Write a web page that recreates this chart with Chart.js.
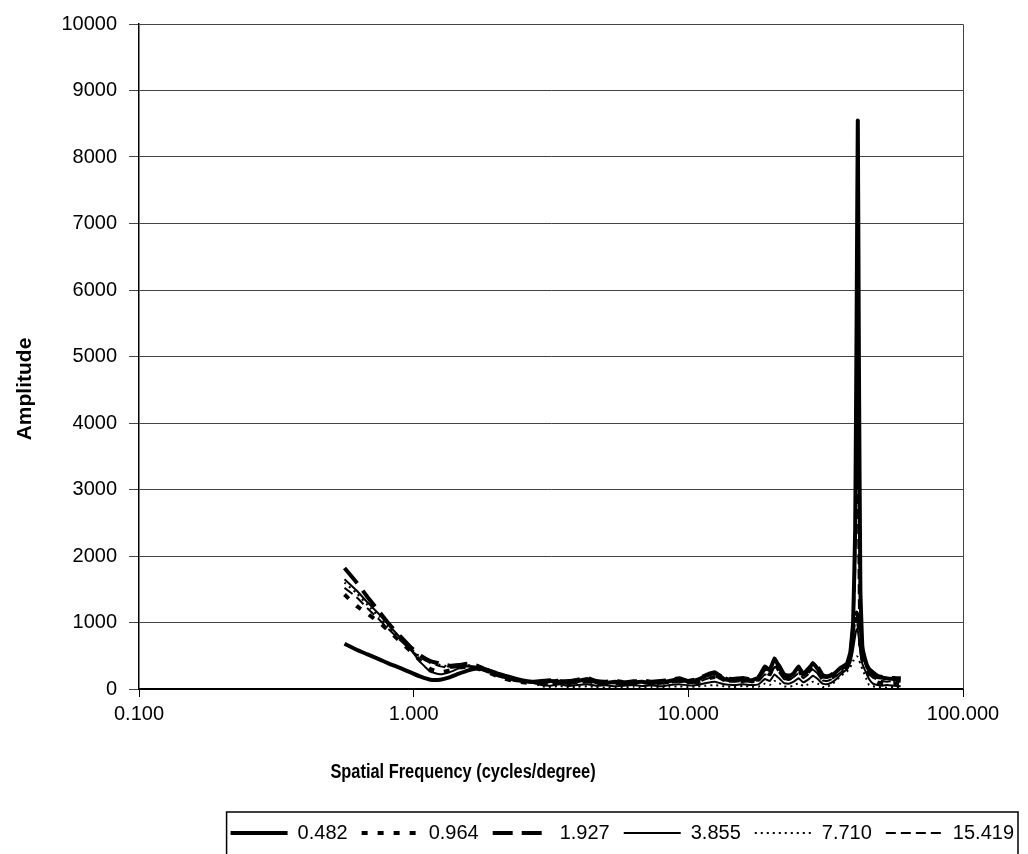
<!DOCTYPE html>
<html>
<head>
<meta charset="utf-8">
<script src="https://cdn.jsdelivr.net/npm/chart.js"></script>
<style>
  body { margin: 0; background: #fff; }
  #wrap { width: 1028px; height: 854px; }
</style>
</head>
<body>
<div id="wrap"><canvas id="spectrumChart" width="1028" height="854"></canvas></div>
<script>
// spatial frequency (cycles/degree) shared by every curve
const freq = [
  0.56, 0.62, 0.68, 0.75, 0.82, 0.90, 0.98, 1.06, 1.15, 1.25,
  1.35, 1.46, 1.58, 1.70, 1.84, 2.00, 2.15, 2.33, 2.50, 2.70,
  2.92, 3.15, 3.40, 3.67, 3.96, 4.28, 4.62, 5.00, 5.40, 5.83,
  6.30, 6.80, 7.34, 7.93, 8.56, 9.25, 10.0, 10.8, 11.6, 12.5,
  13.5, 14.6, 15.8, 17.0, 18.0, 19.0, 19.8, 20.6, 21.4, 22.3,
  23.2, 24.2, 25.2, 26.2, 27.3, 28.4, 29.6, 30.8, 32.0, 33.3,
  34.6, 35.9, 37.8, 38.9, 39.8, 40.5, 41.0, 41.4, 41.8, 42.3,
  43.0, 44.0, 45.5, 47.0, 48.8, 50.8, 53.0, 56.0, 59.3
];

const amp0482 = [
  680, 590, 520, 445, 375, 310, 245, 185, 140, 140,
  175, 230, 280, 310, 290, 240, 200, 160, 130, 110,
  100, 120, 110, 90, 120, 150, 100, 90, 110, 80,
  100, 110, 90, 100, 120, 150, 110, 140, 200, 240,
  150, 130, 150, 130, 170, 340, 280, 460, 330, 200,
  180, 240, 340, 210, 280, 390, 300, 190, 180, 210,
  260, 320, 380, 560, 1000, 2400, 5600, 8550, 4800, 1500,
  650, 450, 280, 220, 180, 170, 160, 150, 150
];
const amp0964 = [
  1420, 1250, 1130, 1000, 860, 700, 560, 420, 300, 250,
  280, 320, 340, 310, 260, 200, 155, 120, 100, 85,
  110, 95, 135, 110, 100, 120, 110, 100, 80, 95,
  80, 130, 100, 90, 110, 120, 130, 100, 150, 180,
  170, 100, 120, 150, 140, 260, 220, 380, 280, 170,
  150, 200, 280, 180, 250, 330, 260, 150, 140, 170,
  220, 280, 320, 450, 800, 1000, 1100, 1050, 900, 650,
  450, 350, 200, 130, 100, 90, 80, 90, 80
];
const amp1927 = [
  1820, 1600, 1380, 1160, 960, 780, 620, 500, 420, 380,
  350, 360, 380, 350, 290, 230, 180, 140, 120, 105,
  120, 130, 115, 120, 140, 165, 120, 110, 125, 100,
  115, 120, 110, 120, 135, 160, 120, 150, 210, 250,
  160, 150, 165, 140, 180, 300, 300, 420, 350, 220,
  200, 260, 320, 230, 300, 370, 330, 210, 190, 220,
  270, 300, 360, 500, 900, 1100, 1150, 1100, 950, 700,
  480, 400, 300, 250, 200, 180, 170, 165, 160
];
const amp3855 = [
  1650, 1480, 1300, 1120, 940, 760, 580, 400, 260, 220,
  250, 310, 350, 330, 270, 210, 170, 130, 110, 95,
  60, 50, 70, 45, 60, 70, 50, 55, 40, 50,
  60, 45, 55, 40, 60, 70, 55, 60, 90, 110,
  70, 60, 70, 60, 70, 150, 120, 220, 160, 90,
  80, 110, 160, 100, 140, 200, 150, 80, 70, 100,
  150, 220, 300, 400, 600, 800, 900, 880, 750, 550,
  380, 280, 150, 80, 60, 50, 60, 50, 40
];
const amp7710 = [
  1600, 1440, 1260, 1080, 910, 740, 600, 480, 410, 360,
  340, 350, 360, 330, 280, 220, 175, 140, 115, 100,
  40, 30, 45, 25, 35, 40, 30, 20, 30, 25,
  35, 20, 30, 25, 35, 40, 30, 35, 50, 60,
  40, 30, 45, 35, 35, 80, 60, 120, 90, 40,
  35, 50, 90, 45, 70, 110, 80, 30, 30, 70,
  130, 200, 260, 330, 420, 470, 490, 480, 440, 380,
  300, 200, 60, 40, 30, 25, 20, 30, 20
];
const amp15419 = [
  1520, 1380, 1210, 1040, 880, 720, 580, 470, 390, 340,
  320, 330, 340, 310, 260, 200, 160, 125, 105, 90,
  80, 70, 90, 75, 85, 100, 80, 70, 85, 65,
  75, 90, 70, 80, 95, 110, 90, 100, 150, 190,
  120, 110, 120, 100, 120, 220, 200, 330, 250, 150,
  130, 180, 240, 160, 220, 290, 230, 130, 120, 150,
  200, 250, 340, 480, 850, 1800, 4900, 3000, 1200, 800,
  520, 380, 230, 170, 140, 120, 110, 120, 110
];

const seriesLabels = ['0.482', '0.964', '1.927', '3.855', '7.710', '15.419'];
const seriesValues = [amp0482, amp0964, amp1927, amp3855, amp7710, amp15419];
const xTickValues = [0.1, 1, 10, 100];
const xTitle = 'Spatial Frequency (cycles/degree)';
const yTitle = 'Amplitude';

// line styles to match the legend
const lineStyles = [
  { width: 4, dash: [] },
  { width: 4, dash: [6, 10] },
  { width: 4, dash: [20, 9] },
  { width: 2, dash: [] },
  { width: 2, dash: [2, 4] },
  { width: 2, dash: [10, 5] }
];
const legendLineWidth = 57;

const datasets = seriesLabels.map((label, i) => ({
  label: label,
  data: freq.map((f, j) => ({ x: f, y: seriesValues[i][j] })),
  borderColor: '#000',
  backgroundColor: '#000',
  borderWidth: lineStyles[i].width,
  borderDash: lineStyles[i].dash,
  pointRadius: 0,
  tension: 0.1,
  fill: false
}));

// plot border, axis titles, dashed legend samples and the legend box
const framePlugin = {
  id: 'frame',
  afterDraw(chart) {
    const { ctx, chartArea: a, legend } = chart;
    ctx.save();
    ctx.strokeStyle = '#444';
    ctx.lineWidth = 1;
    ctx.beginPath();
    ctx.moveTo(a.left, a.top + 0.5);
    ctx.lineTo(a.right + 0.5, a.top + 0.5);
    ctx.lineTo(a.right + 0.5, a.bottom);
    ctx.stroke();

    // axis titles (the x title is set in a condensed bold face)
    ctx.fillStyle = '#000';
    ctx.textAlign = 'center';
    ctx.textBaseline = 'middle';
    ctx.save();
    ctx.translate(463, 772);
    ctx.scale(0.82, 1);
    ctx.font = "bold 20px 'Liberation Sans', Arial, sans-serif";
    ctx.fillText(xTitle, 0, 0);
    ctx.restore();
    ctx.save();
    ctx.translate(25, 389);
    ctx.rotate(-Math.PI / 2);
    ctx.font = "bold 21px 'Liberation Sans', Arial, sans-serif";
    ctx.fillText(yTitle, 0, 0);
    ctx.restore();

    const boxes = legend.legendHitBoxes;
    if (boxes && boxes.length) {
      boxes.forEach((hb, i) => {
        const y = hb.top + hb.height / 2;
        ctx.beginPath();
        ctx.strokeStyle = '#000';
        ctx.lineWidth = lineStyles[i].width;
        ctx.setLineDash(lineStyles[i].dash);
        ctx.moveTo(hb.left, y);
        ctx.lineTo(hb.left + legendLineWidth, y);
        ctx.stroke();
      });
      ctx.setLineDash([]);
      const last = boxes[boxes.length - 1];
      const l = boxes[0].left - 4;
      const r = last.left + last.width + 4;
      const t = legend.top + 3;
      ctx.strokeStyle = '#000';
      ctx.lineWidth = 1.5;
      ctx.strokeRect(l, t, r - l, chart.height + 10 - t);
    }
    ctx.restore();
  }
};

Chart.defaults.font.family = "'Liberation Sans', Arial, sans-serif";
Chart.defaults.color = '#000';

const ctx = document.getElementById('spectrumChart').getContext('2d');
new Chart(ctx, {
  type: 'line',
  data: { datasets: datasets },
  plugins: [framePlugin],
  options: {
    responsive: false,
    animation: false,
    devicePixelRatio: 1,
    layout: { padding: { left: 8, right: 0, top: 0, bottom: 1 } },
    plugins: {
      tooltip: { enabled: false },
      legend: {
        position: 'bottom',
        align: 'end',
        labels: {
          usePointStyle: true,
          pointStyle: 'line',
          pointStyleWidth: legendLineWidth,
          padding: 14,
          font: { size: 20 },
          color: '#000',
          generateLabels: (chart) => {
            const items = Chart.defaults.plugins.legend.labels.generateLabels(chart);
            items.forEach(it => { it.strokeStyle = 'rgba(0,0,0,0)'; it.lineWidth = 0; });
            return items;
          }
        }
      }
    },
    scales: {
      x: {
        type: 'logarithmic',
        min: 0.1,
        max: 100,
        afterBuildTicks: (s) => { s.ticks = xTickValues.map(v => ({ value: v, major: true })); },
        afterFit: (s) => { s.height = 120; s.paddingRight = 65; },
        grid: { drawOnChartArea: false, drawTicks: true, tickLength: 8, color: '#000' },
        border: { color: '#000', width: 2 },
        ticks: {
          autoSkip: false,
          maxRotation: 0,
          padding: 5,
          font: { size: 20 },
          callback: (v) => Number(v).toFixed(3)
        }
      },
      y: {
        min: 0,
        max: 10000,
        afterFit: (s) => { s.width = 131; s.paddingTop = 24; },
        grid: { color: '#444', lineWidth: 1, tickLength: 10 },
        border: { color: '#000', width: 1.5 },
        ticks: {
          stepSize: 1000,
          padding: 12,
          font: { size: 20 },
          callback: (v) => String(v)
        }
      }
    }
  }
});
</script>
</body>
</html>
